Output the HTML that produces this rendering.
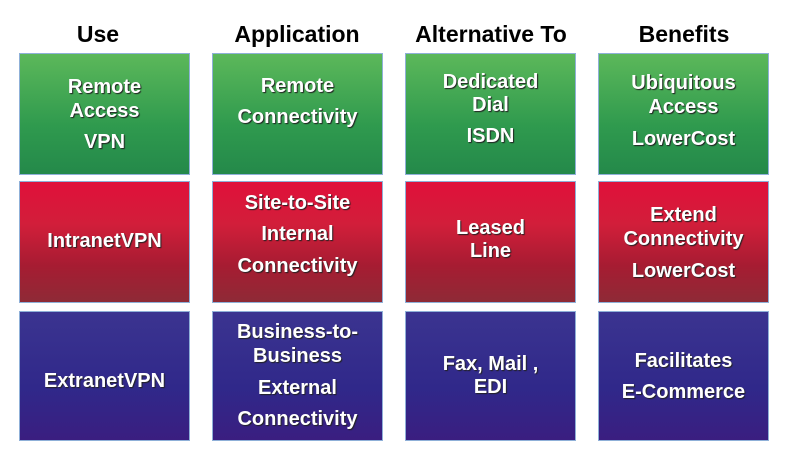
<!DOCTYPE html><html><head><style>
body{margin:0;width:800px;height:469px;background:#fff;position:relative;overflow:hidden;font-family:"Liberation Sans",Arial,sans-serif;font-weight:bold}
.h{position:absolute;top:21px;width:172px;text-align:center;font-size:23px;color:#000}
.b{position:absolute;width:171px;border:1px solid #8fb0d8;box-sizing:border-box}
.g{top:53px;height:122px;background:linear-gradient(#5cb85a,#2f9a4e 60%,#24894a)}
.r{top:181px;height:122px;background:linear-gradient(#e0103a,#d21e3a 35%,#a61c32 70%,#8e2a36)}
.u{top:311px;height:130px;background:linear-gradient(#3b3490,#30288a 60%,#3a1e80)}
.t{position:absolute;width:171px;text-align:center;color:#fff;font-size:20px;text-shadow:1px 1px 1px #222}
</style></head><body>
<div class="h" style="left:12px">Use</div>
<div class="h" style="left:211px">Application</div>
<div class="h" style="left:405px">Alternative To</div>
<div class="h" style="left:598px">Benefits</div>

<div class="b g" style="left:19px"></div><div class="b g" style="left:212px"></div><div class="b g" style="left:405px"></div><div class="b g" style="left:598px"></div>
<div class="b r" style="left:19px"></div><div class="b r" style="left:212px"></div><div class="b r" style="left:405px"></div><div class="b r" style="left:598px"></div>
<div class="b u" style="left:19px"></div><div class="b u" style="left:212px"></div><div class="b u" style="left:405px"></div><div class="b u" style="left:598px"></div>

<div class="t" style="left:19px;top:76px">Remote</div>
<div class="t" style="left:19px;top:100px">Access</div>
<div class="t" style="left:19px;top:131px">VPN</div>
<div class="t" style="left:212px;top:75px">Remote</div>
<div class="t" style="left:212px;top:106px">Connectivity</div>
<div class="t" style="left:405px;top:71px">Dedicated</div>
<div class="t" style="left:405px;top:94px">Dial</div>
<div class="t" style="left:405px;top:125px">ISDN</div>
<div class="t" style="left:598px;top:72px">Ubiquitous</div>
<div class="t" style="left:598px;top:96px">Access</div>
<div class="t" style="left:598px;top:128px">LowerCost</div>

<div class="t" style="left:19px;top:230px">IntranetVPN</div>
<div class="t" style="left:212px;top:192px">Site-to-Site</div>
<div class="t" style="left:212px;top:223px">Internal</div>
<div class="t" style="left:212px;top:255px">Connectivity</div>
<div class="t" style="left:405px;top:217px">Leased</div>
<div class="t" style="left:405px;top:240px">Line</div>
<div class="t" style="left:598px;top:204px">Extend</div>
<div class="t" style="left:598px;top:228px">Connectivity</div>
<div class="t" style="left:598px;top:260px">LowerCost</div>

<div class="t" style="left:19px;top:370px">ExtranetVPN</div>
<div class="t" style="left:212px;top:321px">Business-to-</div>
<div class="t" style="left:212px;top:345px">Business</div>
<div class="t" style="left:212px;top:377px">External</div>
<div class="t" style="left:212px;top:408px">Connectivity</div>
<div class="t" style="left:405px;top:353px">Fax, Mail ,</div>
<div class="t" style="left:405px;top:376px">EDI</div>
<div class="t" style="left:598px;top:350px">Facilitates</div>
<div class="t" style="left:598px;top:381px">E-Commerce</div>
</body></html>
